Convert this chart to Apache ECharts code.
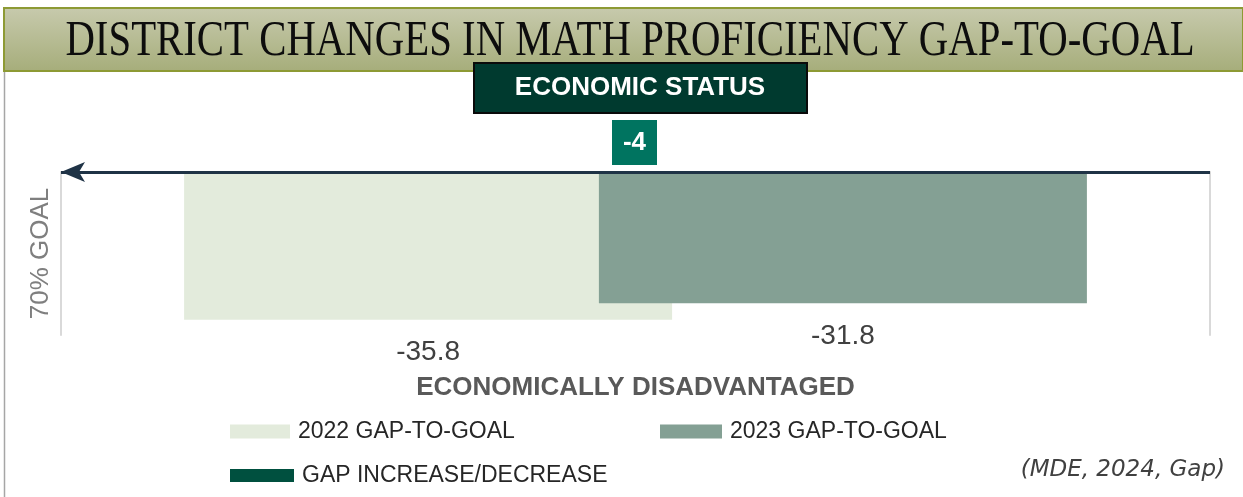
<!DOCTYPE html>
<html>
<head>
<meta charset="utf-8">
<script src="https://cdn.jsdelivr.net/npm/echarts@6/dist/echarts.min.js"></script>
<style>
  html, body { margin: 0; padding: 0; background: #ffffff; }
  #chart { width: 1243px; height: 497px; }
</style>
</head>
<body>
<div id="chart"></div>
<script>
// Gap-to-goal figures for the economically disadvantaged group
const categories = ['ECONOMICALLY DISADVANTAGED'];
const gap2022 = [-35.8];
const gap2023 = [-31.8];
const gapChange = [-4];
const seriesNames = ['2022 GAP-TO-GOAL', '2023 GAP-TO-GOAL', 'GAP INCREASE/DECREASE'];
const chartTitle = 'DISTRICT CHANGES IN MATH PROFICIENCY GAP-TO-GOAL';
const subgroupTitle = 'ECONOMIC STATUS';
const axisName = '70% GOAL';
const sourceNote = '(MDE, 2024, Gap)';

const sans = '"Liberation Sans", Arial, sans-serif';
const chart = echarts.init(document.getElementById('chart'), null, { renderer: 'canvas' });

const legendText = { color: '#262626', fontSize: 23, fontFamily: sans, padding: [0, 0, 0, 3] };

chart.setOption({
  animation: false,
  backgroundColor: '#ffffff',
  grid: { left: 61, right: 33, top: 172, bottom: 162, containLabel: false },
  xAxis: {
    type: 'category',
    data: categories,
    axisLine: { show: false },
    axisTick: { show: false },
    splitLine: { show: false },
    axisLabel: {
      margin: 40,
      color: '#595959',
      fontSize: 26,
      fontWeight: 'bold',
      fontFamily: sans
    }
  },
  yAxis: [
    {
      type: 'value',
      min: -39.5,
      max: 0,
      name: axisName,
      nameLocation: 'middle',
      nameRotate: 90,
      nameGap: 7,
      nameTextStyle: { color: '#7f7f7f', fontSize: 26, fontFamily: sans },
      axisLine: { show: true, onZero: false, lineStyle: { color: '#d9d9d9', width: 2 } },
      axisTick: { show: false },
      axisLabel: { show: false },
      splitLine: { show: false }
    },
    {
      type: 'value',
      min: -39.5,
      max: 0,
      position: 'right',
      axisLine: { show: true, onZero: false, lineStyle: { color: '#d9d9d9', width: 2 } },
      axisTick: { show: false },
      axisLabel: { show: false },
      splitLine: { show: false }
    }
  ],
  legend: [
    {
      data: [{ name: seriesNames[0], icon: 'rect' }],
      left: 230, top: 420, padding: 0, itemWidth: 60, itemHeight: 14,
      selectedMode: false, textStyle: legendText
    },
    {
      data: [{ name: seriesNames[1], icon: 'rect' }],
      left: 660, top: 420, padding: 0, itemWidth: 62, itemHeight: 14,
      selectedMode: false, textStyle: legendText
    },
    {
      data: [{ name: seriesNames[2], icon: 'rect' }],
      left: 230, top: 464, padding: 0, itemWidth: 64, itemHeight: 13,
      selectedMode: false, textStyle: legendText
    }
  ],
  series: [
    {
      name: seriesNames[0],
      type: 'bar',
      data: gap2022,
      barWidth: 488,
      barGap: '-15%',
      itemStyle: { color: '#e3ebdc' },
      label: {
        show: true,
        position: 'bottom',
        distance: 19,
        color: '#404040',
        fontSize: 28,
        fontFamily: sans
      },
      markLine: {
        silent: true,
        symbol: ['arrow', 'none'],
        symbolSize: [15, 24],
        label: { show: false },
        lineStyle: { color: '#1f3346', width: 3, type: 'solid' },
        data: [{ yAxis: 0 }],
        z: 10
      }
    },
    {
      name: seriesNames[1],
      type: 'bar',
      data: gap2023,
      barWidth: 488,
      barGap: '-15%',
      itemStyle: { color: '#84a094' },
      label: {
        show: true,
        position: 'bottom',
        distance: 19,
        color: '#404040',
        fontSize: 28,
        fontFamily: sans
      }
    },
    {
      // legend-only entry for the change badge
      name: seriesNames[2],
      type: 'scatter',
      data: [],
      itemStyle: { color: '#00503f', opacity: 1 }
    }
  ],
  graphic: [
    // outer frame on the left
    { type: 'line', shape: { x1: 4.5, y1: 8, x2: 4.5, y2: 497 }, style: { stroke: '#a6a6a6', lineWidth: 1.5 }, z: 1 },
    // title banner
    {
      type: 'rect', shape: { x: 4, y: 8, width: 1239, height: 63 },
      style: {
        fill: new echarts.graphic.LinearGradient(0, 0, 0, 1, [
          { offset: 0, color: '#c7caad' },
          { offset: 1, color: '#a6ad7a' }
        ]),
        stroke: '#8d9a34', lineWidth: 2
      },
      z: 2
    },
    {
      type: 'text', x: 630, y: 42, scaleX: 0.8,
      style: {
        text: chartTitle, fill: '#0d0d0d', fontSize: 51,
        fontFamily: '"Liberation Serif", "Times New Roman", serif',
        align: 'center', verticalAlign: 'middle'
      },
      z: 3
    },
    // subgroup banner
    {
      type: 'rect', shape: { x: 474, y: 63, width: 333, height: 50 },
      style: { fill: '#003a2f', stroke: '#0a0a0a', lineWidth: 2 },
      z: 4
    },
    {
      type: 'text', x: 640, y: 88,
      style: {
        text: subgroupTitle, fill: '#ffffff', fontSize: 26, fontWeight: 'bold',
        fontFamily: sans, align: 'center', verticalAlign: 'middle'
      },
      z: 5
    },
    // change badge
    {
      type: 'rect', shape: { x: 612, y: 120, width: 45, height: 45 },
      style: { fill: '#007460' },
      z: 4
    },
    {
      type: 'text', x: 634.5, y: 143,
      style: {
        text: String(gapChange[0]), fill: '#ffffff', fontSize: 26, fontWeight: 'bold',
        fontFamily: sans, align: 'center', verticalAlign: 'middle'
      },
      z: 5
    },
    // source note
    {
      type: 'text', x: 1225, y: 470,
      style: {
        text: sourceNote, fill: '#404040', fontSize: 23, fontStyle: 'italic',
        fontFamily: '"DejaVu Sans", sans-serif', align: 'right', verticalAlign: 'middle'
      },
      z: 5
    }
  ]
});
</script>
</body>
</html>
